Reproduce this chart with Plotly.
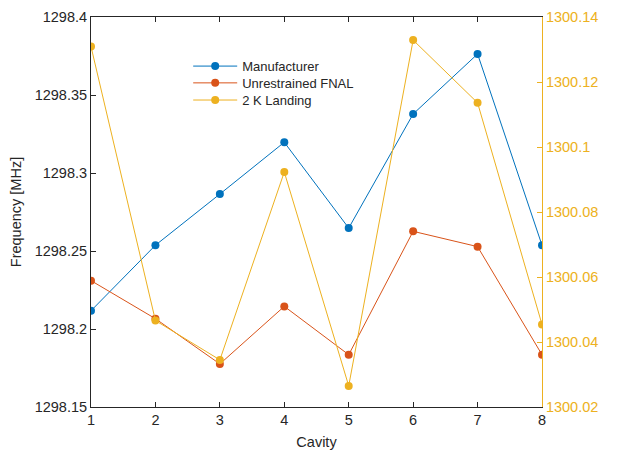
import plotly.graph_objects as go

cavity = [1, 2, 3, 4, 5, 6, 7, 8]
manufacturer = [1298.2117, 1298.2537, 1298.2865, 1298.3197, 1298.2647, 1298.3378, 1298.3763, 1298.2537]
unrestrained_fnal = [1298.2310, 1298.2066, 1298.1776, 1298.2145, 1298.1835, 1298.2626, 1298.2528, 1298.1835]
landing_2k = [1300.1309, 1300.0466, 1300.0345, 1300.0923, 1300.0265, 1300.1329, 1300.1136, 1300.0454]

left_ticks = [1298.15, 1298.2, 1298.25, 1298.3, 1298.35, 1298.4]
left_ticktext = ["1298.15", "1298.2", "1298.25", "1298.3", "1298.35", "1298.4"]
right_ticks = [1300.02, 1300.04, 1300.06, 1300.08, 1300.1, 1300.12, 1300.14]
right_ticktext = ["1300.02", "1300.04", "1300.06", "1300.08", "1300.1", "1300.12", "1300.14"]

BLUE = "#0072BD"
ORANGE = "#D95319"
YELLOW = "#EDB120"
AX = "#262626"
FONT = "Liberation Sans, Arial, sans-serif"
FS = 14.5

fig = go.Figure()
fig.add_trace(go.Scatter(x=cavity, y=manufacturer, name="Manufacturer", mode="lines+markers",
                         line=dict(color=BLUE, width=1), marker=dict(color=BLUE, size=8),
                         legend="legend"))
fig.add_trace(go.Scatter(x=cavity, y=unrestrained_fnal, name="Unrestrained FNAL", mode="lines+markers",
                         line=dict(color=ORANGE, width=1), marker=dict(color=ORANGE, size=8),
                         legend="legend2"))
fig.add_trace(go.Scatter(x=cavity, y=landing_2k, name="2 K Landing", mode="lines+markers",
                         line=dict(color=YELLOW, width=1), marker=dict(color=YELLOW, size=8),
                         yaxis="y2", legend="legend3"))

def leg(yval):
    return dict(x=0.2155, y=yval, xanchor="left", yanchor="middle", bgcolor="rgba(0,0,0,0)",
                font=dict(family=FONT, size=13, color=AX), borderwidth=0, itemwidth=44)

# page body has an 8px margin, so the figure is sized to fill the window from (8, 8)
fig.update_layout(
    width=611, height=443,
    margin=dict(l=83, r=77, t=9, b=44),
    paper_bgcolor="white", plot_bgcolor="white",
    font=dict(family=FONT, size=FS, color=AX),
    showlegend=True,
    legend=leg(0.874),
    legend2=leg(0.831),
    legend3=leg(0.787),
    xaxis=dict(range=[1, 8], tickvals=cavity, ticktext=[str(c) for c in cavity],
               showline=True, linecolor=AX, linewidth=1, mirror="ticks",
               ticks="inside", ticklen=5, tickcolor=AX, showgrid=False, zeroline=False,
               automargin=False, tickfont=dict(size=FS),
               title=dict(text="Cavity", font=dict(size=FS), standoff=9)),
    yaxis=dict(range=[1298.15, 1298.4], tickvals=left_ticks, ticktext=left_ticktext,
               showline=True, linecolor=AX, linewidth=1, ticks="inside", ticklen=5,
               tickcolor=AX, showgrid=False, zeroline=False, automargin=False,
               tickfont=dict(size=FS),
               title=dict(text="Frequency [MHz]", font=dict(size=FS), standoff=9)),
    yaxis2=dict(range=[1300.02, 1300.14], tickvals=right_ticks, ticktext=right_ticktext,
                overlaying="y", side="right", showline=True, linecolor=YELLOW, linewidth=1,
                ticks="inside", ticklen=5, tickcolor=YELLOW, showgrid=False, zeroline=False,
                automargin=False, tickfont=dict(color=YELLOW, size=FS)),
)

fig.add_annotation(text="2 K Landing Frequency [MHz]", textangle=-90, xref="paper", yref="paper",
                   x=1.0, xshift=71, y=0.5, xanchor="left", yanchor="middle", showarrow=False,
                   font=dict(family=FONT, size=FS, color=YELLOW))

fig.write_html("out.html")
